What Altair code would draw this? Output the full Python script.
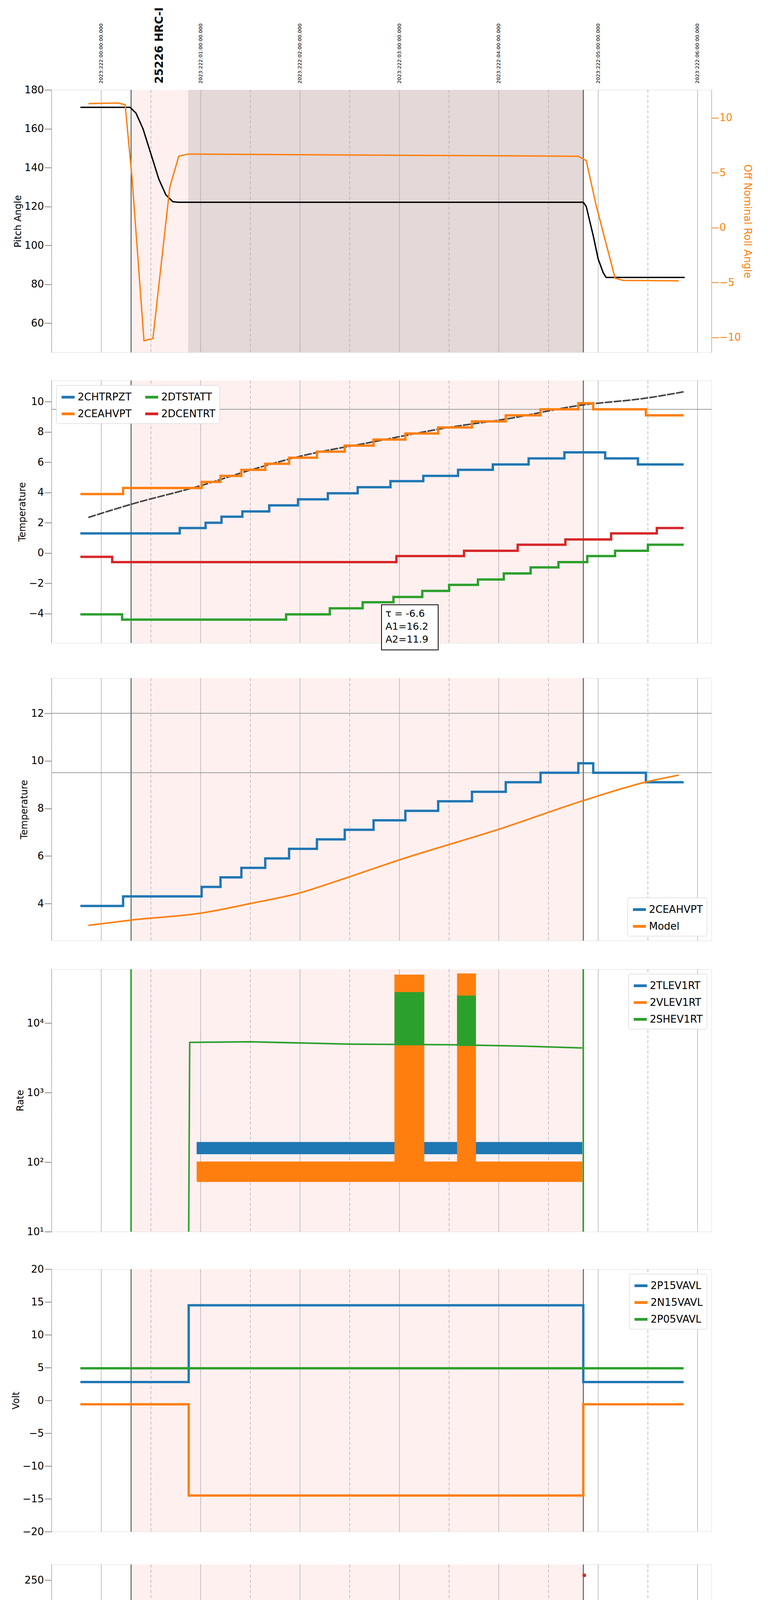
import pandas as pd
import altair as alt

W, H = 1690, 672
XDOM = [19.5, 26.14]
T_ON, T_SCI, T_OFF = 20.3, 20.875, 24.85
C = ["#1f77b4", "#ff7f0e", "#2ca02c", "#d62728"]

# ---- panel 1: pitch / roll
pitch_t = [19.79, 20.29, 20.35, 20.42, 20.5, 20.58, 20.65, 20.72, 20.77, 24.85, 24.88, 24.95, 25.0, 25.05, 25.08, 25.87]
pitch_v = [171, 171, 168, 160, 147, 134, 126, 122.5, 122.2, 122.2, 120, 105, 93, 86, 83.5, 83.5]
roll_t = [19.87, 20.17, 20.24, 20.31, 20.43, 20.52, 20.69, 20.78, 20.87, 24.8, 24.88, 24.98, 25.17, 25.25, 25.81]
roll_v = [11.3, 11.35, 11.2, 4.5, -10.3, -10.1, 3.7, 6.5, 6.7, 6.5, 6.1, 2.0, -4.6, -4.8, -4.85]

# ---- panel 2: temperatures
hv_t = [19.79, 20.22, 21.01, 21.2, 21.41, 21.65, 21.89, 22.17, 22.45, 22.74, 23.06, 23.39, 23.73, 24.07, 24.42, 24.8, 24.95, 25.48, 25.86]
hv_v = [3.9, 4.3, 4.7, 5.1, 5.5, 5.9, 6.3, 6.7, 7.1, 7.5, 7.9, 8.3, 8.7, 9.1, 9.5, 9.9, 9.5, 9.1]
trp_t = [19.79, 20.79, 21.05, 21.21, 21.42, 21.69, 21.98, 22.28, 22.58, 22.91, 23.24, 23.59, 23.94, 24.3, 24.66, 25.07, 25.4, 25.86]
trp_v = [1.3, 1.65, 2.0, 2.4, 2.75, 3.15, 3.55, 3.95, 4.35, 4.75, 5.1, 5.5, 5.85, 6.25, 6.65, 6.25, 5.85]
dts_t = [19.79, 20.21, 21.86, 22.3, 22.63, 22.94, 23.23, 23.5, 23.79, 24.05, 24.32, 24.6, 24.89, 25.17, 25.5, 25.86]
dts_v = [-4.05, -4.4, -4.05, -3.65, -3.25, -2.9, -2.5, -2.1, -1.75, -1.35, -0.95, -0.6, -0.2, 0.15, 0.55]
dce_t = [19.79, 20.11, 22.97, 23.65, 24.19, 24.67, 25.13, 25.59, 25.86]
dce_v = [-0.25, -0.6, -0.2, 0.15, 0.55, 0.9, 1.3, 1.65]
fit_t = [19.87, 20.29, 21.01, 21.5, 22.0, 22.74, 23.5, 24.07, 24.8, 25.5, 25.86]
fit_v = [2.35, 3.2, 4.47, 5.48, 6.39, 7.35, 8.3, 8.85, 9.74, 10.25, 10.65]
hv2_t = hv_t[:-2] + [25.48, 25.86]
model_t = [19.87, 20.29, 21.01, 21.5, 22.0, 22.36, 23.01, 24.02, 24.88, 25.5, 25.81]
model_v = [3.08, 3.3, 3.6, 4.0, 4.45, 4.93, 5.85, 7.15, 8.37, 9.13, 9.4]

# ---- panel 4: rates (bands lo/hi)
spike_t = [[22.95, 23.25], [23.58, 23.77]]
she_t = [20.88, 20.89, 21.5, 22.5, 23.5, 24.2, 24.84]
she_v = [10, 5300, 5400, 5000, 4900, 4700, 4400]

# ---- panel 5: volts
p15_t = [19.79, 20.88, 24.85, 25.86]
p15_v = [2.8, 14.5, 2.8]
n15_v = [-0.6, -14.5, -0.6]
p05_t = [19.79, 25.86]
p05_v = [4.9]

# ---- panel 6: HV monitor
imhb_dec_t = [20.89, 20.89, 20.89, 20.9, 20.91, 20.92, 20.93, 20.94, 23.0, 23.03, 23.06, 23.19, 23.23, 23.76, 24.86]
imhb_dec_v = [127, 124, 119, 106, 101, 97, 92, 88, 79, 79, 79, 79, 80, 79, 255]
imhv_dec_t = [20.89, 20.9, 20.91, 20.92, 20.93, 20.94, 23.06, 23.18, 23.23, 23.76]
imhv_dec_v = [100, 95, 90, 85, 82, 79, 127, 127, 127, 127]

# ---- panel 7: detector temps
imhva_t = [20.88, 20.88, 20.97, 21.08, 21.18, 21.27, 21.37, 21.49, 21.6, 21.74, 21.88, 22.04, 22.21, 22.4, 22.61, 22.82, 23.06, 23.31, 23.58, 23.83, 24.12, 24.42, 24.72, 24.85]
imhva_v = [-0.8, 13.0, 13.3, 13.6, 13.9, 14.1, 14.4, 14.7, 15.0, 15.2, 15.5, 15.8, 16.05, 16.35, 16.6, 16.9, 17.2, 17.5, 17.8, 18.05, 18.3, 18.6, 18.9]
sphva_t = [20.88, 21.5, 21.78, 22.03, 22.3, 22.53, 22.76, 23.25, 23.34, 23.77, 23.88, 24.18, 24.48, 24.76, 24.84]
sphva_v = [13.8, 14.1, 14.4, 14.7, 15.0, 15.25, 15.5, 15.7, 16.05, 16.35, 16.65, 16.95, 17.25, 17.5]
spina_t = [20.88, 21.96, 22.86, 23.58, 24.26, 24.84]
spina_v = [1.9, 2.35, 2.8, 3.2, 3.6]
imina_t = [20.88, 21.78, 23.25, 23.92, 24.65, 24.84]
imina_v = [0.25, 0.65, 1.05, 1.5, 1.9]

# ---- panel 8: FEA temps
fht_t = [19.79, 20.97, 21.17, 21.32, 21.46, 21.6, 21.74, 21.89, 22.04, 22.2, 22.35, 22.51, 22.67, 22.83, 23.0, 23.26, 23.36, 23.55, 23.77, 23.93, 24.12, 24.32, 24.53, 24.75, 25.32, 25.62, 25.86]
fht_v = [-7.6, -7.2, -6.8, -6.4, -6.0, -5.6, -5.2, -4.8, -4.4, -4.0, -3.7, -3.25, -2.9, -2.5, -2.15, -1.75, -1.4, -1.05, -0.65, -0.25, 0.15, 0.5, 0.9, 1.25, 0.9, 0.5]
frad_t = [21.29, 21.45, 21.61, 21.77, 21.93, 22.09, 22.27, 22.44, 22.61, 22.78, 22.97, 23.25, 23.35, 23.56, 23.77, 23.97, 24.18, 24.41, 24.64, 24.86, 24.98, 25.41, 25.72, 25.86]
frad_v = [-8.4, -8.0, -7.6, -7.2, -6.8, -6.4, -6.0, -5.6, -5.2, -4.8, -4.45, -4.05, -3.7, -3.3, -2.9, -2.5, -2.1, -1.75, -1.4, -1.0, -1.4, -1.75, -2.1]
fep_t = [20.88, 20.92, 20.97, 21.03, 21.08, 21.15, 21.26, 21.35, 21.46, 21.59, 21.74, 21.89, 22.04, 22.2, 22.36, 22.55, 22.72, 22.91, 23.25, 23.31, 23.54, 23.77, 23.98, 24.22, 24.46, 24.62, 24.72]
fep_v = [-6.2, -5.85, -5.4, -5.0, -4.6, -4.2, -3.8, -3.4, -3.0, -2.6, -2.2, -1.8, -1.4, -1.0, -0.6, -0.25, 0.25, 0.65, 1.1, 1.5, 1.9, 2.4, 2.8, 3.2, 3.6, 3.85]
fe0_t = [20.88, 20.88, 21.01, 21.12, 21.23, 21.32, 21.44, 21.51, 21.63, 21.75, 21.85, 21.96, 22.08, 22.21, 22.32, 22.46, 22.58, 22.72, 22.86, 23.25, 23.4, 23.58, 23.77, 23.88, 24.02, 24.2, 24.36, 24.52, 24.67]
fe0_v = [-8.66, -5.25, -4.85, -4.5, -4.15, -3.8, -3.5, -3.15, -2.75, -2.45, -2.1, -1.75, -1.4, -1.15, -0.8, -0.45, -0.15, 0.15, 0.5, 1.1, 1.75, 2.05, 2.35, 2.65, 2.95, 3.3, 3.5, 3.8]

hours = [20, 21, 22, 23, 24, 25, 26]
halves = [19.5, 20.5, 21.5, 22.5, 23.5, 24.5, 25.5]
top_labels = [f"2023:222:0{i}:00:00.000" for i in range(7)]


def steps(name, times, vals):
    vv = list(vals) + [vals[-1]]
    return pd.DataFrame({"t": times[: len(vv)], "v": vv, "s": name})


def line_df(name, times, vals):
    return pd.DataFrame({"t": times, "v": vals, "s": name})


def band_df(name, lo, hi):
    rows = []
    for i, (a, b) in enumerate(spike_t):
        rows += [(a, lo[i], hi[i], name, i), (b, lo[i], hi[i], name, i)]
    return pd.DataFrame(rows, columns=["t", "lo", "hi", "s", "g"])


def xenc(axis=None, field="t"):
    return alt.X(f"{field}:Q", scale=alt.Scale(domain=XDOM, nice=False, zero=False), axis=axis)


def background(bottom=False, dark=False, lines=True):
    ax = alt.Axis(values=hours, labels=bottom, tickSize=28, tickWidth=2, grid=False,
                  labelExpr="(datum.value % 24 < 10 ? '0' : '') + (datum.value % 24) + 'h'",
                  labelFontSize=28, labelPadding=40, title="2023-08-10 (222)" if bottom else None,
                  titleFontSize=30, titleFontWeight="normal")
    shade = pd.DataFrame({"t0": [T_ON], "t1": [T_OFF]})
    layers = [alt.Chart(shade).mark_rect(color="#fff0f0").encode(
        x=xenc(ax, "t0"), x2="t1", y=alt.value(0), y2=alt.value(H))]
    if dark:
        layers.append(alt.Chart(pd.DataFrame({"t0": [T_SCI], "t1": [T_OFF]})).mark_rect(color="#e4d8d8").encode(
            x=xenc(None, "t0"), x2="t1", y=alt.value(0), y2=alt.value(H)))
    layers.append(alt.Chart(pd.DataFrame({"t": hours})).mark_rule(color="#b0b0b0", strokeWidth=1.5).encode(
        x=xenc(), y=alt.value(0), y2=alt.value(H)))
    layers.append(alt.Chart(pd.DataFrame({"t": halves})).mark_rule(color="#b0b0b0", strokeWidth=1.5, strokeDash=[8, 5]).encode(
        x=xenc(), y=alt.value(0), y2=alt.value(H)))
    if lines:
        layers.append(alt.Chart(pd.DataFrame({"t": [T_ON, T_OFF]})).mark_rule(color="black", strokeWidth=1.5).encode(
            x=xenc(), y=alt.value(0), y2=alt.value(H)))
    if bottom:
        hh = pd.DataFrame({"t": halves, "lab": ["30"] * len(halves)})
        layers.append(alt.Chart(hh).mark_rule(color="black", strokeWidth=1.5).encode(
            x=xenc(), y=alt.value(H), y2=alt.value(H + 12)))
        layers.append(alt.Chart(hh).mark_text(fontSize=17, baseline="top").encode(
            x=xenc(), y=alt.value(H + 16), text="lab"))
    return layers


def yq(title, dom, values=None, fmt=None, field="v"):
    axkw = dict(tickSize=18, tickWidth=2, labelFontSize=26, titleFontSize=24,
                titleFontWeight="normal", grid=False)
    if values is not None:
        axkw["values"] = values
    if fmt is not None:
        axkw["format"] = fmt
    return alt.Y(f"{field}:Q", title=title, scale=alt.Scale(domain=dom, nice=False, zero=False),
                 axis=alt.Axis(**axkw))


def colenc(names, colors, legend):
    return alt.Color("s:N", scale=alt.Scale(domain=names, range=colors), legend=legend)


def leg(orient, cols=1, stype="stroke"):
    return alt.Legend(title=None, orient=orient, columns=cols, symbolType=stype, labelFontSize=26,
                      symbolStrokeWidth=7, symbolSize=1100 if stype == "stroke" else 120,
                      fillColor="white", strokeColor="#cccccc", padding=10, cornerRadius=4,
                      rowPadding=8, columnPadding=20, offset=12)


def step_layer(df, names, colors, legend, yenc, width=6):
    return alt.Chart(df).mark_line(interpolate="step-after", strokeWidth=width).encode(
        x=xenc(), y=yenc, color=colenc(names, colors, legend), detail="s:N")


# ---------- panel 1
p1_pitch = alt.Chart(line_df("pitch", pitch_t, pitch_v)).mark_line(color="black", strokeWidth=3.5).encode(
    x=xenc(), y=yq("Pitch Angle", [45, 180], [60, 80, 100, 120, 140, 160, 180]))
p1_roll = alt.Chart(line_df("roll", roll_t, roll_v)).mark_line(color=C[1], strokeWidth=3.5).encode(
    x=xenc(), y=alt.Y("v:Q", title="Off Nominal Roll Angle", scale=alt.Scale(domain=[-11.36, 12.55], nice=False, zero=False),
                      axis=alt.Axis(orient="right", values=[-10, -5, 0, 5, 10], tickSize=18, tickWidth=2,
                                    labelFontSize=26, titleFontSize=26, titleFontWeight="normal",
                                    labelColor=C[1], titleColor=C[1], tickColor=C[1], grid=False)))
tl = pd.DataFrame({"t": hours, "lab": top_labels})
p1_top = alt.Chart(tl).mark_text(angle=270, align="left", baseline="middle", fontSize=13).encode(
    x=xenc(), y=alt.value(-16), text="lab")
p1_obs = alt.Chart(pd.DataFrame({"t": [20.59], "lab": ["25226 HRC-I"]})).mark_text(
    angle=270, align="left", baseline="middle", fontSize=28, fontWeight="bold").encode(
    x=xenc(), y=alt.value(-16), text="lab")
panel1 = alt.layer(*background(dark=True), p1_pitch, p1_roll, p1_top, p1_obs).resolve_scale(y="independent").properties(width=W, height=H)

# ---------- panel 2
n2 = ["2CHTRPZT", "2CEAHVPT", "2DTSTATT", "2DCENTRT"]
df2 = pd.concat([steps(n2[0], trp_t, trp_v), steps(n2[1], hv_t, hv_v),
                 steps(n2[2], dts_t, dts_v), steps(n2[3], dce_t, dce_v)])
dom2 = [-5.94, 11.4]
y2 = yq("Temperature", dom2, [-4, -2, 0, 2, 4, 6, 8, 10])
p2_ref = alt.Chart(pd.DataFrame({"v": [9.5]})).mark_rule(color="gray", strokeWidth=1.5).encode(y=y2)
p2_fit = alt.Chart(line_df("fit", fit_t, fit_v)).mark_line(color="#444444", strokeWidth=4, strokeDash=[20, 3],
                                                           interpolate="monotone").encode(x=xenc(), y=y2)
p2_lines = step_layer(df2, n2, C, leg("top-left", 2), y2)
box = pd.DataFrame({"t": [22.82], "t1": [23.39], "v": [-3.42], "v2": [-6.4]})
p2_box = alt.Chart(box).mark_rect(fill="white", stroke="black", strokeWidth=2).encode(
    x=xenc(), x2="t1", y=y2, y2="v2")
ann = pd.DataFrame({"t": [22.86] * 3, "v": [-4.0, -4.85, -5.7], "lab": ["\u03c4 = -6.6", "A1=16.2", "A2=11.9"]})
p2_txt = alt.Chart(ann).mark_text(align="left", fontSize=25).encode(x=xenc(), y=y2, text="lab")
panel2 = alt.layer(*background(), p2_ref, p2_fit, p2_lines, p2_box, p2_txt).properties(width=W, height=H)

# ---------- panel 3
dom3 = [2.44, 13.48]
y3 = yq("Temperature", dom3, [4, 6, 8, 10, 12])
df3 = steps("2CEAHVPT", hv2_t, hv_v[:-1] + [9.1])
p3_ref = alt.Chart(pd.DataFrame({"v": [12, 9.5]})).mark_rule(color="gray", strokeWidth=1.5).encode(y=y3)
p3_hv = step_layer(df3, ["2CEAHVPT", "Model"], C[:2], leg("bottom-right"), y3)
p3_model = alt.Chart(line_df("Model", model_t, model_v)).mark_line(strokeWidth=4, interpolate="monotone").encode(
    x=xenc(), y=y3, color=colenc(["2CEAHVPT", "Model"], C[:2], None))
panel3 = alt.layer(*background(), p3_ref, p3_hv, p3_model).properties(width=W, height=H)

# ---------- panel 4
n4 = ["2TLEV1RT", "2VLEV1RT", "2SHEV1RT"]
dom4 = [10, 60000]
ylog = alt.Y("lo:Q", title="Rate", scale=alt.Scale(type="log", domain=dom4, nice=False),
             axis=alt.Axis(values=[10, 100, 1000, 10000], tickSize=18, tickWidth=2, labelFontSize=26,
                           titleFontSize=24, titleFontWeight="normal", grid=False,
                           labelExpr="{10: '10\u00b9', 100: '10\u00b2', 1000: '10\u00b3', 10000: '10\u2074'}[datum.value]"))
bands = pd.concat([
    pd.DataFrame({"t": [20.96, 24.84], "lo": [130, 130], "hi": [195, 195], "s": n4[0], "g": 9}),
    pd.DataFrame({"t": [20.96, 24.84], "lo": [52, 52], "hi": [102, 102], "s": n4[1], "g": 9}),
    band_df(n4[1], [65, 80], [50000, 52000]),
    band_df(n4[2], [4800, 4700], [28000, 25000]),
])
p4_bands = alt.Chart(bands).mark_area(opacity=1).encode(
    x=xenc(), y=ylog, y2="hi", color=colenc(n4, C[:3], leg("top-right")), detail="g:N")
p4_she = alt.Chart(pd.DataFrame({"t": she_t, "lo": she_v, "s": n4[2]})).mark_line(strokeWidth=4).encode(
    x=xenc(), y=ylog, color=colenc(n4, C[:3], None))
p4_rules = alt.Chart(pd.DataFrame({"t": [T_ON, T_OFF], "lo": [10, 10], "hi": [60000, 60000]})).mark_rule(
    color=C[2], strokeWidth=4).encode(x=xenc(), y=ylog, y2="hi")
panel4 = alt.layer(*background(lines=False), p4_bands, p4_she, p4_rules).properties(width=W, height=H)

# ---------- panel 5
n5 = ["2P15VAVL", "2N15VAVL", "2P05VAVL"]
df5 = pd.concat([steps(n5[0], p15_t, p15_v), steps(n5[1], p15_t, n15_v), steps(n5[2], p05_t, p05_v)])
p5 = step_layer(df5, n5, C[:3], leg("top-right"), yq("Volt", [-20, 20], [-20, -15, -10, -5, 0, 5, 10, 15, 20]))
panel5 = alt.layer(*background(), p5).properties(width=W, height=H)

# ---------- panel 6
n6 = ["2SPHBLV", "2SPHVLV", "2IMHVLV", "2IMHBLV"]
y6 = yq("HV Monitor", [0, 266], [0, 50, 100, 150, 200, 250])
flat6 = pd.DataFrame({"t": [20.94, 24.85, 20.94, 24.85], "v": [79, 79, 86, 86], "s": [n6[2], n6[2], n6[3], n6[3]]})
p6_flat = alt.Chart(flat6).mark_line(strokeWidth=9).encode(
    x=xenc(), y=y6, color=colenc(n6, C, None), detail="s:N")
pts6 = pd.concat([line_df(n6[2], imhv_dec_t, imhv_dec_v), line_df(n6[3], imhb_dec_t, imhb_dec_v)])
p6_pts = alt.Chart(pts6).mark_circle(size=90, opacity=1).encode(
    x=xenc(), y=y6, color=colenc(n6, C, leg("top-right", stype="circle")))
panel6 = alt.layer(*background(), p6_flat, p6_pts).properties(width=W, height=H)

# ---------- panel 7
n7 = ["2SPINATM", "2SPHVATM", "2IMINATM", "2IMHVATM"]
dom7 = [-0.8, 19.57]
y7 = yq("Detector Temp", dom7, [0, 2.5, 5, 7.5, 10, 12.5, 15, 17.5], ".1f")
df7 = pd.concat([steps(n7[0], spina_t, spina_v), steps(n7[1], sphva_t, sphva_v),
                 steps(n7[2], imina_t, imina_v), steps(n7[3], imhva_t, imhva_v)])
b7 = pd.concat([band_df(n7[0], [-0.8, -0.8], [2.8, 3.2]), band_df(n7[1], [10.9, 11.3], [15.7, 16.3]),
                band_df(n7[2], [0.9, 1.05], [2.8, 3.2]), band_df(n7[3], [15.5, 16.3], [17.2, 17.8])])
p7 = step_layer(df7, n7, C, leg("top-right"), y7)
p7_b = alt.Chart(b7).mark_area(opacity=1).encode(
    x=xenc(), y=yq(None, dom7, field="lo"), y2="hi", color=colenc(n7, C, None), detail="g:N")
p7_r = alt.Chart(pd.DataFrame({"t": [T_OFF, 23.17], "v": [-0.8, 10.9], "v2": [19.57, 17.0]})).mark_rule(
    color=C[3], strokeWidth=6).encode(x=xenc(), y=y7, y2="v2")
panel7 = alt.layer(*background(), p7, p7_b, p7_r).properties(width=W, height=H)

# ---------- panel 8
n8 = ["2FHTRMZT", "2FRADPYT", "2FEPRATM", "2FE00ATM"]
dom8 = [-8.66, 3.97]
y8 = yq("FEA Temp", dom8, [-8, -6, -4, -2, 0, 2])
df8 = pd.concat([steps(n8[0], fht_t, fht_v), steps(n8[1], frad_t, frad_v),
                 steps(n8[2], fep_t, fep_v), steps(n8[3], fe0_t, fe0_v)])
b8 = pd.concat([band_df(n8[2], [-4.7, -4.7], [0.75, 2.0]), band_df(n8[3], [0.75, 1.8], [3.97, 3.97])])
p8 = step_layer(df8, n8, C, leg("bottom-right"), y8)
p8_b = alt.Chart(b8).mark_area(opacity=1).encode(
    x=xenc(), y=yq(None, dom8, field="lo"), y2="hi", color=colenc(n8, C, None), detail="g:N")
r8 = pd.DataFrame({"t": [23.17, 23.67, T_OFF, 21.22, 23.29], "v": [-8.66, -8.66, -8.66, -6.8, -4.0],
                   "v2": [3.97, 3.97, 3.97, -5.55, -1.75], "s": [n8[3], n8[3], n8[3], n8[0], n8[0]]})
p8_r = alt.Chart(r8).mark_rule(strokeWidth=6).encode(
    x=xenc(), y=y8, y2="v2", color=colenc(n8, C, None))
panel8 = alt.layer(*background(bottom=True), p8, p8_b, p8_r).properties(width=W, height=H)

chart = alt.vconcat(panel1, panel2, panel3, panel4, panel5, panel6, panel7, panel8, spacing=68).resolve_scale(
    color="independent", y="independent").configure_view(stroke="black", strokeWidth=2.5).configure_axis(
    labelFont="DejaVu Sans", titleFont="DejaVu Sans", domainColor="black", tickColor="black",
    labelColor="black", titleColor="black", titlePadding=14).configure_legend(
    labelFont="DejaVu Sans").configure(font="DejaVu Sans").properties(padding={"left": 20, "top": 10, "right": 20, "bottom": 10})

chart.save("out.html", embed_options={"renderer": "svg", "actions": False})
